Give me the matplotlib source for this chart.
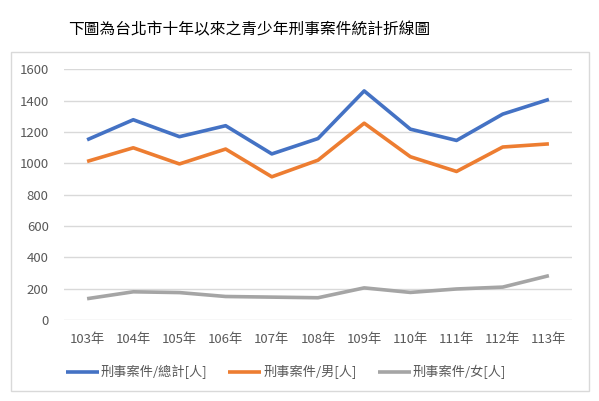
import matplotlib

matplotlib.use("Agg")
import matplotlib.pyplot as plt
from matplotlib.patches import Rectangle

plt.rcParams["font.family"] = ["Noto Sans CJK TC", "DejaVu Sans"]

years = ["103年", "104年", "105年", "106年", "107年", "108年",
         "109年", "110年", "111年", "112年", "113年"]
total = [1150, 1278, 1170, 1240, 1060, 1158, 1462, 1218, 1146, 1314, 1408]
male = [1012, 1099, 996, 1091, 914, 1020, 1256, 1042, 948, 1104, 1124]
female = [136, 180, 175, 150, 146, 142, 205, 176, 198, 210, 283]
series_names = ["刑事案件/總計[人]", "刑事案件/男[人]", "刑事案件/女[人]"]
colors = ["#4472C4", "#ED7D31", "#A5A5A5"]
title = "下圖為台北市十年以來之青少年刑事案件統計折線圖"

W, H = 599, 401
fig = plt.figure(figsize=(W / 100, H / 100), dpi=100)
ax = fig.add_axes([64 / W, 1 - 320 / H, (572 - 64) / W, (320 - 69.3) / H])

x = range(len(years))
for vals, name, c in zip([total, male, female], series_names, colors):
    ax.plot(x, vals, color=c, lw=2.6, label=name, solid_capstyle="butt")

ax.set_xlim(-0.5, len(years) - 0.5)
ax.set_ylim(0, 1600)
ax.set_yticks(range(0, 1601, 200))
ax.set_xticks(list(x), years)
ax.grid(axis="y", color="#D9D9D9", lw=1)
ax.set_axisbelow(True)
for s in ax.spines.values():
    s.set_visible(False)
ax.tick_params(length=0, labelsize=9.5, labelcolor="#595959", pad=9)
ax.tick_params(axis="y", pad=11)

fig.legend(loc="center", bbox_to_anchor=(286 / W, 1 - 372 / H), ncol=3,
           frameon=False, fontsize=9.5, handlelength=2.5, handletextpad=0.15,
           columnspacing=1.6, labelcolor="#595959")

fig.patches.append(Rectangle((11 / W, 1 - 390.7 / H), (589 - 11) / W, (390.7 - 52) / H,
                             transform=fig.transFigure, fill=False,
                             edgecolor="#D9D9D9", lw=1))
fig.text(249 / W, 1 - 30 / H, title, ha="center", va="center", fontsize=11.3)

fig.savefig("out.png", dpi=100)
